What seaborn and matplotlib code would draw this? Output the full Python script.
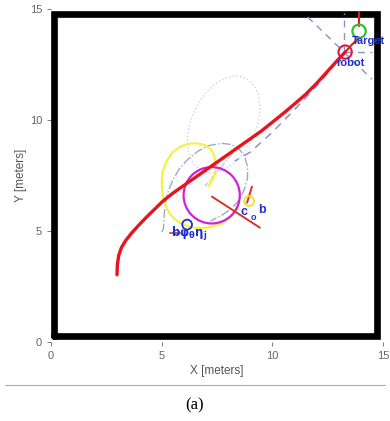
import numpy as np
import pandas as pd
import matplotlib
matplotlib.use("Agg")
import matplotlib.pyplot as plt
import seaborn as sns
from matplotlib.patches import Ellipse, Circle

# ---------------- data (in meters) ----------------
# robot trajectory (red)
traj_x = [2.98, 3.0, 3.06, 3.18, 3.38, 3.66, 4.0, 4.34, 4.7, 5.06, 5.5, 6.0, 6.5, 7.0,
          7.5, 8.0, 8.5, 9.0, 9.5, 10.0, 10.5, 11.0, 11.5, 12.0, 12.5, 13.0, 13.29]
traj_y = [3.03, 3.5, 3.9, 4.25, 4.58, 4.93, 5.3, 5.65, 6.0, 6.35, 6.7, 7.05, 7.4, 7.75,
          8.1, 8.45, 8.8, 9.15, 9.5, 9.9, 10.3, 10.72, 11.15, 11.65, 12.2, 12.75, 13.06]

# robot -> target link
link_x = [13.29, 13.6, 13.92]
link_y = [13.06, 13.4, 13.7]
# target heading
head_x = [13.92, 13.92]
head_y = [14.25, 14.85]

robot_xy = (13.29, 13.06)
target_xy = (13.92, 14.0)

# predicted path (dashed blue) and its dash-dot loop
pred_x = [13.29, 12.2, 11.1, 10.0, 9.0, 8.3]
pred_y = [13.06, 11.75, 10.57, 9.45, 8.55, 8.15]
loop_x = [5.0, 5.08, 5.1, 5.12, 5.18, 5.3, 5.5, 5.8, 6.2, 6.65, 7.15, 7.7, 8.15, 8.5,
          8.75, 8.88, 8.88, 8.75, 8.5, 8.15, 7.7, 7.2]
loop_y = [4.95, 5.1, 5.4, 5.8, 6.3, 6.8, 7.3, 7.8, 8.25, 8.6, 8.85, 8.95, 8.9, 8.7,
          8.35, 7.9, 7.4, 6.9, 6.4, 6.0, 5.7, 5.45]
inner_x = [8.23, 6.96]
inner_y = [8.54, 7.02]

# dashed guide lines at the robot
guide_diag_x = [11.6, 14.5]
guide_diag_y = [14.64, 11.84]
guide_vert_x = [13.24, 13.24]
guide_vert_y = [13.06, 14.8]
guide_horz_x = [13.29, 14.5]
guide_horz_y = [13.06, 13.06]

# yellow arc
yel_x = [7.11, 7.3, 7.42, 7.45, 7.38, 7.2, 6.95, 6.6, 6.2, 5.85, 5.5, 5.22, 5.05, 5.0,
         5.03, 5.15, 5.35, 5.62, 5.95, 6.35, 6.8, 7.25, 7.7, 8.1, 8.4, 8.5]
yel_y = [7.02, 7.3, 7.65, 8.0, 8.4, 8.7, 8.87, 8.95, 8.93, 8.8, 8.55, 8.15, 7.7, 7.2,
         6.7, 6.2, 5.8, 5.5, 5.3, 5.17, 5.13, 5.18, 5.33, 5.6, 5.95, 6.15]

# magenta circle, pink uncertainty ellipse
mag_center = (7.26, 6.61)
mag_radius = 1.27
ell_center = (7.8, 9.8)
ell_size = (2.9, 4.6)
ell_angle = -25

# red bar through magenta circle and small markers
bar_x = [7.27, 9.44]
bar_y = [6.55, 5.15]
tick_x = [9.08, 8.86]
tick_y = [7.0, 6.28]
small_yel = (8.95, 6.35)
small_blue = (6.15, 5.29)
stub_x = [5.38, 5.83]
stub_y = [4.93, 4.93]

# wall (black frame)
wall_x = [0.14, 14.71, 14.71, 0.14, 0.14]
wall_y = [0.25, 0.25, 14.78, 14.78, 0.25]

ticks = [0, 5, 10, 15]

# ---------------- plot ----------------
sns.set_style("white")
plt.rcParams["font.family"] = ["Liberation Sans", "DejaVu Sans"]

fig = plt.figure(figsize=(3.9, 4.21), dpi=100)
ax = fig.add_axes([0.1308, 0.1876, 0.8512, 0.791])

blue = "#1f2fd0"
dash_col = "#8a92c8"

ax.plot(wall_x, wall_y, color="black", lw=4.8, solid_joinstyle="miter", zorder=2)

ax.add_patch(Ellipse(ell_center, ell_size[0], ell_size[1], angle=ell_angle,
                     fill=False, ec="#dccbe4", lw=1.0, ls=":", zorder=3))
ax.plot(loop_x, loop_y, color="#a0a8c8", lw=1.0, ls="-.", zorder=3)
ax.plot(inner_x, inner_y, color="#c0c4d8", lw=0.9, ls="-.", zorder=3)
ax.plot(pred_x, pred_y, color=dash_col, lw=1.1, ls=(0, (5, 4)), zorder=3)
ax.plot(guide_diag_x, guide_diag_y, color=dash_col, lw=1.0, ls=(0, (5, 4)), zorder=3)
ax.plot(guide_vert_x, guide_vert_y, color=dash_col, lw=1.0, ls=(0, (5, 4)), zorder=3)
ax.plot(guide_horz_x, guide_horz_y, color=dash_col, lw=1.0, ls=(0, (5, 4)), zorder=3)

ax.plot(yel_x, yel_y, color="#f4f23a", lw=1.5, zorder=4)
ax.add_patch(Circle(mag_center, mag_radius, fill=False, ec="#d020d8", lw=1.6, zorder=5))
ax.plot(bar_x, bar_y, color="#d8302a", lw=1.4, zorder=6)
ax.plot(tick_x, tick_y, color="#d8302a", lw=1.4, zorder=6)
ax.add_patch(Circle(small_yel, 0.22, fill=False, ec="#f0e020", lw=1.3, zorder=6))
ax.plot(stub_x, stub_y, color="#e03030", lw=1.2, zorder=6)
ax.add_patch(Circle(small_blue, 0.22, fill=False, ec=blue, lw=1.3, zorder=7))

traj = pd.DataFrame({"x": traj_x, "y": traj_y})
sns.lineplot(data=traj, x="x", y="y", sort=False, color="#e8141c", lw=2.4, ax=ax, zorder=8)
ax.plot(link_x, link_y, color="#e8141c", lw=1.5, zorder=8)
ax.plot(head_x, head_y, color="#e8141c", lw=1.5, zorder=8)

ax.add_patch(Circle(robot_xy, 0.3, fill=False, ec="#d81a4a", lw=1.5, zorder=9))
ax.add_patch(Circle(target_xy, 0.3, fill=False, ec="#30c030", lw=1.6, zorder=9))

ax.text(13.6, 13.55, "Target", color=blue, fontsize=8, fontweight="bold",
        va="center", ha="left", zorder=10, clip_on=False)
ax.text(12.9, 12.55, "robot", color=blue, fontsize=8, fontweight="bold",
        va="center", ha="left", zorder=10)
ax.text(8.55, 5.85, "c", color=blue, fontsize=9, fontweight="bold", va="center", zorder=10)
ax.text(9.0, 5.6, "o", color=blue, fontsize=6.5, fontweight="bold", va="center", zorder=10)
ax.text(9.35, 5.95, "b", color=blue, fontsize=9, fontweight="bold", va="center", zorder=10)
ax.text(5.4, 4.85, r"$\mathbf{b\varphi_\theta\eta_j}$", color=blue, fontsize=8.5,
        va="center", zorder=10)

ax.set_xlim(0, 15)
ax.set_ylim(0, 15)
ax.set_xticks(ticks)
ax.set_yticks(ticks)
ax.set_xlabel("X [meters]", color="#555555", fontsize=8.5, labelpad=3)
ax.set_ylabel("Y [meters]", color="#555555", fontsize=8.5, labelpad=2)
ax.tick_params(colors="#666666", labelsize=8, length=3, width=0.6,
               direction="out", bottom=True, left=True)
for s in ax.spines.values():
    s.set_visible(False)

fig.add_artist(plt.Line2D([0.013, 0.987], [1 - 385 / 421] * 2, color="#aaaaaa", lw=0.8))
fig.text(0.5, 1 - 405 / 421, "(a)", ha="center", va="center", fontsize=12,
         family="Liberation Serif", color="black")

fig.savefig("out.png", dpi=100)
